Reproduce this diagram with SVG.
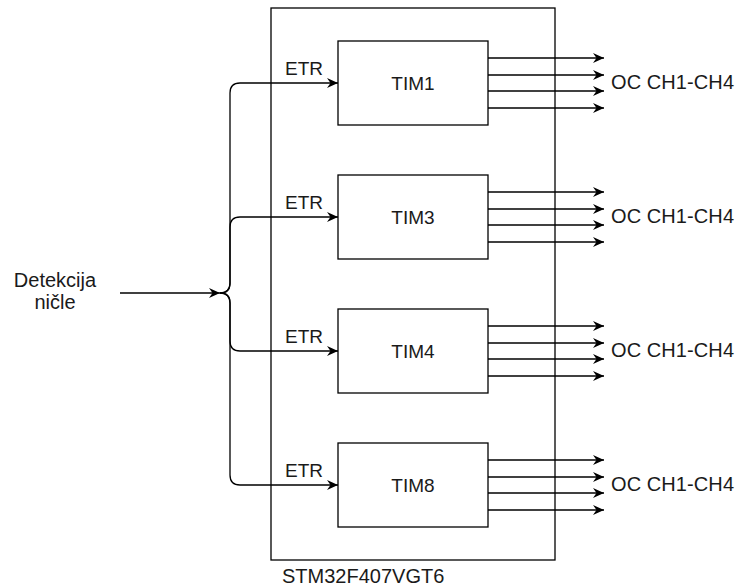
<svg xmlns="http://www.w3.org/2000/svg" width="736" height="588" viewBox="0 0 736 588">
<defs>
<style>
.ln{fill:none;stroke:#000;stroke-width:1.3}
.box{fill:#fff;stroke:#000;stroke-width:1.3}
.t{font-family:"Liberation Sans",Arial,sans-serif;font-size:19px;fill:#1a1a1a}
.c{text-anchor:middle}
</style>
<marker id="arr" markerUnits="userSpaceOnUse" markerWidth="12" markerHeight="12" refX="11" refY="6" orient="auto" viewBox="0 0 12 12">
<path d="M0,1 L11,6 L0,11 L3.5,6 Z" fill="#000"/>
</marker>
</defs>
<rect width="736" height="588" fill="#fff"/>
<g id="mcu">
<rect class="box" x="271" y="8" width="284" height="552" fill="none"/>
<text class="t" x="282" y="583" style="font-size:20px">STM32F407VGT6</text>
</g>
<g id="input">
<text class="t c" x="55" y="287" style="font-size:20px">Detekcija</text>
<text class="t c" x="55" y="309" style="font-size:20px">ničle</text>
</g>
<g id="tim1">
<rect class="box" x="338" y="41" width="150" height="84"/>
<text class="t c" x="413" y="90">TIM1</text>
</g>
<g id="tim3">
<rect class="box" x="338" y="175" width="150" height="84"/>
<text class="t c" x="413" y="224">TIM3</text>
</g>
<g id="tim4">
<rect class="box" x="338" y="309" width="150" height="84"/>
<text class="t c" x="413" y="358">TIM4</text>
</g>
<g id="tim8">
<rect class="box" x="338" y="443" width="150" height="84"/>
<text class="t c" x="413" y="492">TIM8</text>
</g>
<g id="connectors">
<path class="ln" d="M120 293 L220 293" marker-end="url(#arr)"/>
<path class="ln" d="M220 293 Q230 293 230 283 L230 93 Q230 83 240 83 L338 83" marker-end="url(#arr)"/>
<path class="ln" d="M220 293 Q230 293 230 283 L230 227 Q230 217 240 217 L338 217" marker-end="url(#arr)"/>
<path class="ln" d="M220 293 Q230 293 230 303 L230 341 Q230 351 240 351 L338 351" marker-end="url(#arr)"/>
<path class="ln" d="M220 293 Q230 293 230 303 L230 475 Q230 485 240 485 L338 485" marker-end="url(#arr)"/>
<path class="ln" d="M488 58 L604 58" marker-end="url(#arr)"/>
<path class="ln" d="M488 75 L604 75" marker-end="url(#arr)"/>
<path class="ln" d="M488 91 L604 91" marker-end="url(#arr)"/>
<path class="ln" d="M488 108 L604 108" marker-end="url(#arr)"/>
<path class="ln" d="M488 192 L604 192" marker-end="url(#arr)"/>
<path class="ln" d="M488 209 L604 209" marker-end="url(#arr)"/>
<path class="ln" d="M488 225 L604 225" marker-end="url(#arr)"/>
<path class="ln" d="M488 242 L604 242" marker-end="url(#arr)"/>
<path class="ln" d="M488 326 L604 326" marker-end="url(#arr)"/>
<path class="ln" d="M488 343 L604 343" marker-end="url(#arr)"/>
<path class="ln" d="M488 359 L604 359" marker-end="url(#arr)"/>
<path class="ln" d="M488 376 L604 376" marker-end="url(#arr)"/>
<path class="ln" d="M488 460 L604 460" marker-end="url(#arr)"/>
<path class="ln" d="M488 477 L604 477" marker-end="url(#arr)"/>
<path class="ln" d="M488 493 L604 493" marker-end="url(#arr)"/>
<path class="ln" d="M488 510 L604 510" marker-end="url(#arr)"/>
</g>
<g id="labels">
<text class="t" x="285" y="75">ETR</text>
<text class="t" x="285" y="209">ETR</text>
<text class="t" x="285" y="343">ETR</text>
<text class="t" x="285" y="477">ETR</text>
<text class="t" x="611" y="89" textLength="123" style="font-size:20px">OC CH1-CH4</text>
<text class="t" x="611" y="223" textLength="123" style="font-size:20px">OC CH1-CH4</text>
<text class="t" x="611" y="357" textLength="123" style="font-size:20px">OC CH1-CH4</text>
<text class="t" x="611" y="491" textLength="123" style="font-size:20px">OC CH1-CH4</text>
</g>
</svg>
